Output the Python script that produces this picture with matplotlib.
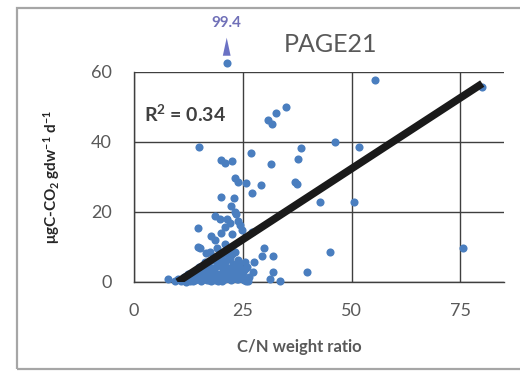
import matplotlib
matplotlib.use("Agg")
import matplotlib.pyplot as plt
from matplotlib.patches import Rectangle
import numpy as np

plt.rcParams['font.family'] = ['Lato', 'DejaVu Sans']
plt.rcParams['mathtext.default'] = 'regular'

# ---- data ----
cn_ratio = [
    15.0, 19.9, 20.9, 22.4, 26.8, 31.5, 38.3, 37.6, 23.2, 23.9, 25.7, 29.1, 37.1, 37.5,
    27.2, 20.1, 22.9, 22.2, 23.2, 18.7, 19.7, 21.4, 23.5, 23.9, 22.0, 14.8, 20.9, 17.8,
    18.6, 20.1, 22.6, 24.3, 24.7, 27.0, 15.1, 16.5, 22.2, 23.2, 29.8, 29.5, 31.9, 27.6,
    25.6, 27.4, 31.9, 39.7, 31.2, 33.5, 25.8, 7.9, 14.8,
    55.3, 80.0, 35.0, 32.6, 30.8, 31.6, 46.1, 51.7, 42.7, 50.5, 45.0, 75.5,
    9.5, 10.2, 10.8, 11.5, 11.9, 12.4, 12.8, 13.3, 13.7, 14.1, 14.5, 14.9, 15.3, 15.6,
    16.0, 16.3, 16.7, 17.0, 17.4, 17.7, 18.1, 18.4, 18.8, 19.1, 19.5, 19.8, 20.2, 20.5,
    20.9, 21.2, 21.6, 21.9, 22.3, 22.6, 23.0, 23.4, 23.8, 24.2, 24.7, 25.2, 13.0, 14.2,
    15.8, 16.9, 18.2, 19.4, 20.6, 21.8, 23.1, 24.4, 17.5, 19.0, 20.0, 21.0, 22.0, 12.0,
    16.0, 18.6, 25.0, 26.5,
    11.0, 13.5, 15.0, 16.5, 17.8, 19.2, 20.8, 22.1, 23.6, 24.9, 26.0, 14.0, 15.5, 17.2,
    18.9, 20.3, 21.5, 22.8, 24.0, 25.5, 16.2, 17.9, 19.6, 21.3, 22.5, 23.7, 26.2, 12.7,
    18.3, 20.7,
]
co2_rate = [
    38.6, 35.0, 33.9, 34.7, 36.8, 33.7, 38.2, 35.1, 29.8, 28.7, 28.3, 27.7, 28.7, 28.0,
    25.3, 24.2, 24.0, 21.8, 20.1, 18.8, 17.9, 18.1, 19.4, 17.3, 16.8, 15.3, 15.8, 13.2,
    12.0, 13.9, 13.7, 16.3, 14.9, 14.4, 9.6, 8.2, 9.1, 8.7, 9.6, 7.4, 7.4, 5.8,
    5.8, 2.9, 2.9, 2.9, 1.0, 0.4, 0.4, 1.0, 10.1,
    57.8, 55.8, 50.1, 48.2, 46.3, 45.1, 40.1, 38.5, 23.0, 22.8, 8.7, 9.8,
    0.3, 0.8, 0.2, 1.5, 0.5, 2.2, 0.4, 1.0, 3.0, 0.6, 1.8, 4.2, 0.3, 2.6,
    1.2, 5.0, 0.7, 3.4, 1.9, 0.2, 6.2, 2.8, 0.9, 4.5, 1.5, 7.0, 0.4, 3.2,
    5.6, 1.1, 2.4, 6.5, 0.6, 4.0, 1.7, 3.6, 0.8, 5.2, 2.0, 0.5, 1.6, 2.9,
    0.9, 4.8, 3.3, 0.3, 6.0, 1.3, 2.7, 4.1, 8.5, 9.8, 7.6, 10.8, 6.8, 0.1,
    3.8, 0.5, 3.0, 1.4,
    0.9, 0.2, 2.1, 3.0, 1.5, 2.2, 0.9, 3.0, 2.4, 1.1, 4.4, 1.2, 3.6, 0.6,
    2.3, 4.6, 3.9, 5.1, 6.3, 3.8, 5.7, 4.0, 5.2, 7.9, 8.0, 1.0, 0.3, 1.9,
    7.2, 2.0,
]
# off-scale point: true value and where it is shown at the top of the chart
outlier_x = 21.3
outlier_value = 99.4
outlier_shown_y = 62.7

# linear trendline
trend_slope = 0.81
trend_intercept = -8.1
trend_x = [10.0, 80.0]
r_squared = 0.34

x_ticks = [0, 25, 50, 75]
y_ticks = [0, 20, 40, 60]
title = "PAGE21"

# ---- figure ----
W, H = 520, 372
fig = plt.figure(figsize=(W / 100, H / 100), dpi=100)
fig.patch.set_facecolor('white')
fig.patches.append(Rectangle((17 / W, 3 / H), 1.2, 1 - 11 / H, transform=fig.transFigure,
                             fill=False, edgecolor='#a6a6a6', lw=1.6, zorder=0))

ax = fig.add_axes([134 / W, 1 - 282 / H, 370 / W, 210 / H])
ax.set_xlim(0, 85)
ax.set_ylim(0, 60)
ax.set_xticks(x_ticks)
ax.set_yticks(y_ticks)
ax.grid(True, color='#3f3f3f', lw=1.0, zorder=1)
for s in ['right', 'top']:
    ax.spines[s].set_visible(False)
for s in ['left', 'bottom']:
    ax.spines[s].set_color('#3f3f3f')
    ax.spines[s].set_linewidth(1.0)
ax.tick_params(length=0, labelsize=13, labelcolor='#595959')
ax.tick_params(axis='x', pad=15)
ax.tick_params(axis='y', pad=16)

blue = '#4a7ebf'
ax.scatter(cn_ratio, co2_rate, s=34, color=blue, zorder=3, clip_on=False, linewidths=0)
ax.scatter([outlier_x], [outlier_shown_y], s=34, color=blue, zorder=3, clip_on=False, linewidths=0)

tx = np.array(trend_x)
ax.plot(tx, trend_slope * tx + trend_intercept, color='#1a1a1a', lw=5.5, zorder=4,
        solid_capstyle='butt')

# arrow and true value of off-scale point
ax.annotate('', xy=(outlier_x, 70.6), xytext=(outlier_x, 65.4),
            arrowprops=dict(arrowstyle='-|>,head_length=1.3,head_width=0.28',
                            color='#6b72c4', lw=0), annotation_clip=False)
ax.text(outlier_x, 72.0, f"{outlier_value}", color='#7070b8', fontsize=11,
        fontweight='bold', ha='center', va='bottom', clip_on=False)

ax.text(2.3, 48.0, f"R$^2$ = {r_squared}", fontsize=14, fontweight='bold',
        color='#404040', ha='left', va='center')

fig.text(330 / W, 1 - 45 / H, title, fontsize=18, color='#595959', ha='center', va='center')
fig.text(299 / W, 1 - 347 / H, "C/N weight ratio", fontsize=12, fontweight='bold',
         color='#595959', ha='center', va='center')
fig.text(52 / W, 1 - 177 / H, "μgC-CO$_2$ gdw$^{-1}$ d$^{-1}$", fontsize=11,
         fontweight='bold', color='#262626', rotation=90, ha='center', va='center')

fig.savefig('out.png', dpi=100, facecolor='white')
